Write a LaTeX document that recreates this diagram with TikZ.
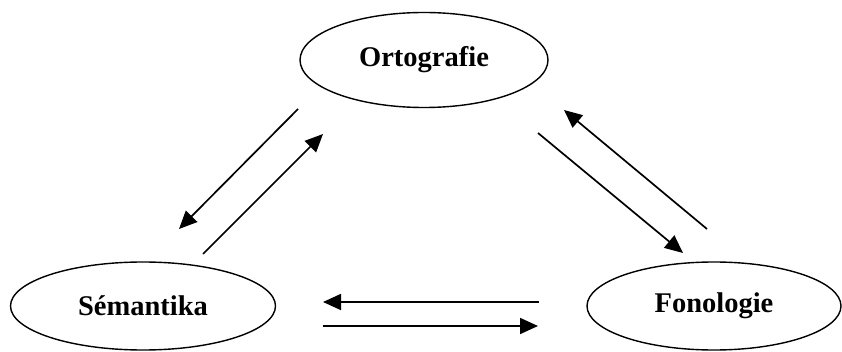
\documentclass[tikz,border=0pt]{standalone}
\usepackage{fontspec}
\setmainfont{Liberation Serif}
\usetikzlibrary{shapes.geometric,arrows.meta}
\begin{document}
\begin{tikzpicture}[x=1pt,y=-1pt,
  concept/.style={draw,ellipse,line width=1.4,inner sep=0pt,
    font=\fontsize{28.5}{30}\selectfont\bfseries},
  link/.style={line width=1.7,-{Triangle[length=18,width=16]}}]
\useasboundingbox (0,0) rectangle (842,352);
% the three concept ellipses
\node[concept,minimum width=248,minimum height=95] (orto) at (424,60) {Ortografie};
\node[concept,minimum width=265,minimum height=88] (sem) at (143,306) {Sémantika};
\node[concept,minimum width=254,minimum height=88] (fono) at (714,306) {Fonologie};
% free ends of the paired arrows
\coordinate (os1) at (298,109); \coordinate (os2) at (179,229);
\coordinate (so1) at (203,254); \coordinate (so2) at (323,134);
\coordinate (fo1) at (707,229); \coordinate (fo2) at (564,110);
\coordinate (of1) at (538,133); \coordinate (of2) at (683,253);
\coordinate (fs1) at (539,302); \coordinate (fs2) at (323,302);
\coordinate (sf1) at (323,326); \coordinate (sf2) at (538,326);
% arrows between the concepts
\draw[link] (os1) -- (os2);
\draw[link] (so1) -- (so2);
\draw[link] (fo1) -- (fo2);
\draw[link] (of1) -- (of2);
\draw[link] (fs1) -- (fs2);
\draw[link] (sf1) -- (sf2);
\end{tikzpicture}
\end{document}
